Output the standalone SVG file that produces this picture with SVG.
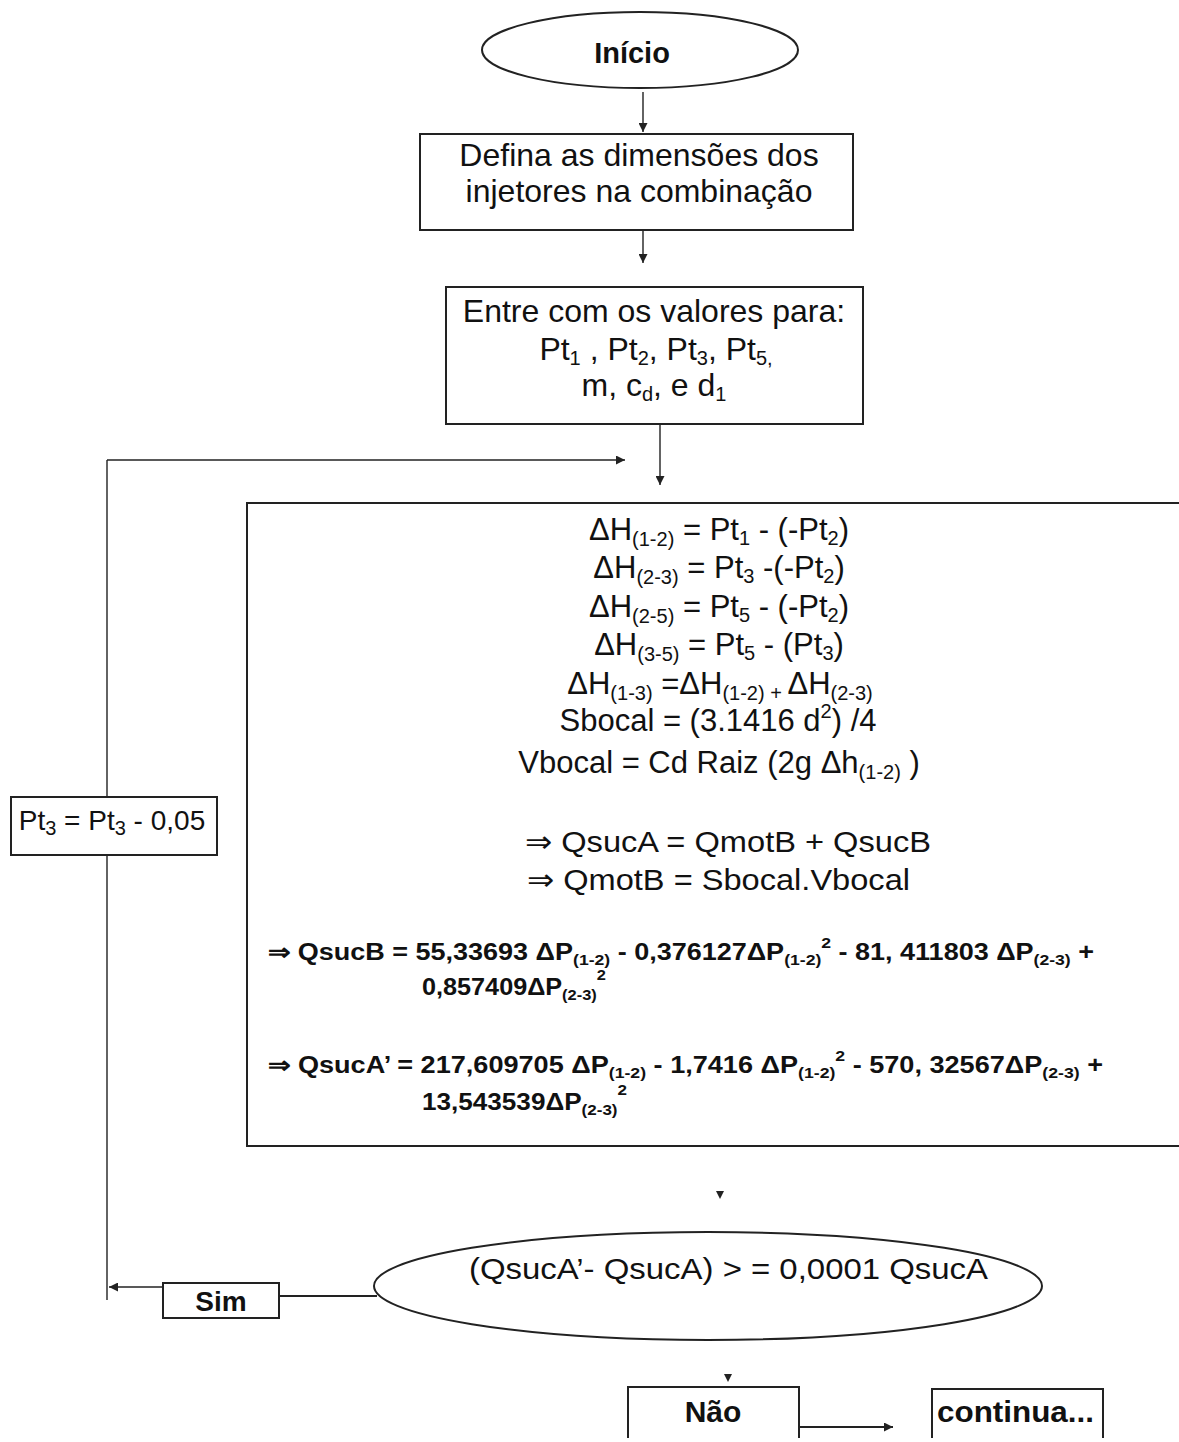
<svg xmlns="http://www.w3.org/2000/svg" width="1179" height="1442" viewBox="0 0 1179 1442">
<style>
  text { font-family: "Liberation Sans", Arial, sans-serif; fill: #111; }
  .t { font-size: 32px; }
  .f { font-size: 31px; }
  .s { font-size: 20px; }
  .b { font-weight: bold; }
  .bf { font-size: 23px; font-weight: bold; }
  .bs { font-size: 15px; }
  .box { fill: none; stroke: #222; stroke-width: 2; }
  .ln { fill: none; stroke: #222; stroke-width: 1.4; }
  .c { text-anchor: middle; }
</style>
<defs>
  <marker id="ah" viewBox="0 0 10 10" refX="10" refY="5" markerWidth="9" markerHeight="9" markerUnits="userSpaceOnUse" orient="auto">
    <path d="M0,0 L10,5 L0,10 z" fill="#222"/>
  </marker>
</defs>
<rect width="1179" height="1442" fill="#fff"/>

<g id="connectors">
  <line class="ln" x1="643" y1="92" x2="643" y2="132" marker-end="url(#ah)"/>
  <line class="ln" x1="643" y1="230" x2="643" y2="263" marker-end="url(#ah)"/>
  <line class="ln" x1="660" y1="424" x2="660" y2="485" marker-end="url(#ah)"/>
  <line class="ln" x1="107" y1="460" x2="625" y2="460" marker-end="url(#ah)"/>
  <line class="ln" x1="107" y1="460" x2="107" y2="797"/>
  <line class="ln" x1="107" y1="855" x2="107" y2="1300"/>
  <polygon points="716,1191 724,1191 720,1199" fill="#222"/>
  <line class="box" x1="279" y1="1296" x2="377" y2="1296"/>
  <line class="ln" x1="163" y1="1287" x2="109" y2="1287" marker-end="url(#ah)"/>
  <polygon points="724,1374 732,1374 728,1382" fill="#222"/>
  <line class="box" x1="799" y1="1427" x2="893" y2="1427" marker-end="url(#ah)"/>
</g>

<g id="inicio">
  <ellipse cx="640" cy="50" rx="158" ry="38" class="box"/>
  <text x="632" y="63" class="c b" style="font-size:29px">Início</text>
</g>

<g id="defina">
  <rect x="420" y="134" width="433" height="96" class="box"/>
  <text x="639" y="166" class="t c">Defina as dimensões dos</text>
  <text x="639" y="202" class="t c">injetores na combinação</text>
</g>

<g id="entre">
  <rect x="446" y="287" width="417" height="137" class="box"/>
  <text x="654" y="322" class="t c">Entre com os valores para:</text>
  <text x="656" y="360" class="t c">Pt<tspan class="s" dy="5">1</tspan><tspan dy="-5"> , Pt</tspan><tspan class="s" dy="5">2</tspan><tspan dy="-5">, Pt</tspan><tspan class="s" dy="5">3</tspan><tspan dy="-5">, Pt</tspan><tspan class="s" dy="5">5,</tspan></text>
  <text x="654" y="396" class="t c">m, c<tspan class="s" dy="5">d</tspan><tspan dy="-5">, e d</tspan><tspan class="s" dy="5">1</tspan></text>
</g>

<g id="calculo">
  <path d="M1179,503 H247 V1146 H1179" class="box"/>
  <text x="719" y="540" class="f c">ΔH<tspan class="s" dy="6">(1-2)</tspan><tspan dy="-6"> = Pt</tspan><tspan class="s" dy="5">1</tspan><tspan dy="-5"> - (-Pt</tspan><tspan class="s" dy="5">2</tspan><tspan dy="-5">)</tspan></text>
  <text x="719" y="578" class="f c">ΔH<tspan class="s" dy="6">(2-3)</tspan><tspan dy="-6"> = Pt</tspan><tspan class="s" dy="5">3</tspan><tspan dy="-5"> -(-Pt</tspan><tspan class="s" dy="5">2</tspan><tspan dy="-5">)</tspan></text>
  <text x="719" y="617" class="f c">ΔH<tspan class="s" dy="6">(2-5)</tspan><tspan dy="-6"> = Pt</tspan><tspan class="s" dy="5">5</tspan><tspan dy="-5"> - (-Pt</tspan><tspan class="s" dy="5">2</tspan><tspan dy="-5">)</tspan></text>
  <text x="719" y="655" class="f c">ΔH<tspan class="s" dy="6">(3-5)</tspan><tspan dy="-6"> = Pt</tspan><tspan class="s" dy="5">5</tspan><tspan dy="-5"> - (Pt</tspan><tspan class="s" dy="5">3</tspan><tspan dy="-5">)</tspan></text>
  <text x="720" y="694" class="f c">ΔH<tspan class="s" dy="6">(1-3)</tspan><tspan dy="-6"> =ΔH</tspan><tspan class="s" dy="6">(1-2) + </tspan><tspan dy="-6">ΔH</tspan><tspan class="s" dy="6">(2-3)</tspan></text>
  <text x="718" y="731" class="f c">Sbocal = (3.1416 d<tspan class="s" dy="-13">2</tspan><tspan dy="13">) /4</tspan></text>
  <text x="719" y="773" class="f c">Vbocal = Cd Raiz (2g Δh<tspan class="s" dy="6">(1-2)</tspan><tspan dy="-6"> )</tspan></text>
  <text x="525" y="852" style="font-size:30px" textLength="406" lengthAdjust="spacingAndGlyphs">⇒ QsucA = QmotB + QsucB</text>
  <text x="527" y="890" style="font-size:30px" textLength="383" lengthAdjust="spacingAndGlyphs">⇒ QmotB = Sbocal.Vbocal</text>
  <text x="268" y="960" class="bf" textLength="826" lengthAdjust="spacingAndGlyphs">⇒ QsucB = 55,33693 ΔP<tspan class="bs" dy="5">(1-2)</tspan><tspan dy="-5"> - 0,376127ΔP</tspan><tspan class="bs" dy="5">(1-2)</tspan><tspan class="bs" dy="-17">2</tspan><tspan dy="12"> - 81, 411803 ΔP</tspan><tspan class="bs" dy="5">(2-3)</tspan><tspan dy="-5"> +</tspan></text>
  <text x="422" y="995" class="bf" textLength="184" lengthAdjust="spacingAndGlyphs">0,857409ΔP<tspan class="bs" dy="5">(2-3)</tspan><tspan class="bs" dy="-20">2</tspan></text>
  <text x="268" y="1073" class="bf" textLength="835" lengthAdjust="spacingAndGlyphs">⇒ QsucA’ = 217,609705 ΔP<tspan class="bs" dy="5">(1-2)</tspan><tspan dy="-5"> - 1,7416 ΔP</tspan><tspan class="bs" dy="5">(1-2)</tspan><tspan class="bs" dy="-17">2</tspan><tspan dy="12"> - 570, 32567ΔP</tspan><tspan class="bs" dy="5">(2-3)</tspan><tspan dy="-5"> +</tspan></text>
  <text x="422" y="1110" class="bf" textLength="205" lengthAdjust="spacingAndGlyphs">13,543539ΔP<tspan class="bs" dy="5">(2-3)</tspan><tspan class="bs" dy="-20">2</tspan></text>
</g>

<g id="pt3">
  <rect x="11" y="797" width="206" height="58" class="box"/>
  <text x="112" y="830" class="c" style="font-size:28px">Pt<tspan class="s" dy="5">3</tspan><tspan dy="-5"> = Pt</tspan><tspan class="s" dy="5">3</tspan><tspan dy="-5"> - 0,05</tspan></text>
</g>

<g id="decisao">
  <ellipse cx="708" cy="1286" rx="334" ry="54" class="box"/>
  <text x="469" y="1279" style="font-size:30px" textLength="519" lengthAdjust="spacingAndGlyphs">(QsucA’- QsucA) &gt; = 0,0001 QsucA</text>
</g>

<g id="sim">
  <rect x="163" y="1283" width="116" height="35" class="box"/>
  <text x="221" y="1311" class="c b" style="font-size:28px">Sim</text>
</g>

<g id="nao">
  <path d="M628,1438 V1387 H799 V1438" class="box"/>
  <text x="713" y="1422" class="c b" style="font-size:30px">Não</text>
</g>

<g id="continua">
  <path d="M932,1438 V1389 H1103 V1438" class="box"/>
  <text x="937" y="1422" class="b" style="font-size:30px" textLength="157" lengthAdjust="spacingAndGlyphs">continua...</text>
</g>
</svg>
